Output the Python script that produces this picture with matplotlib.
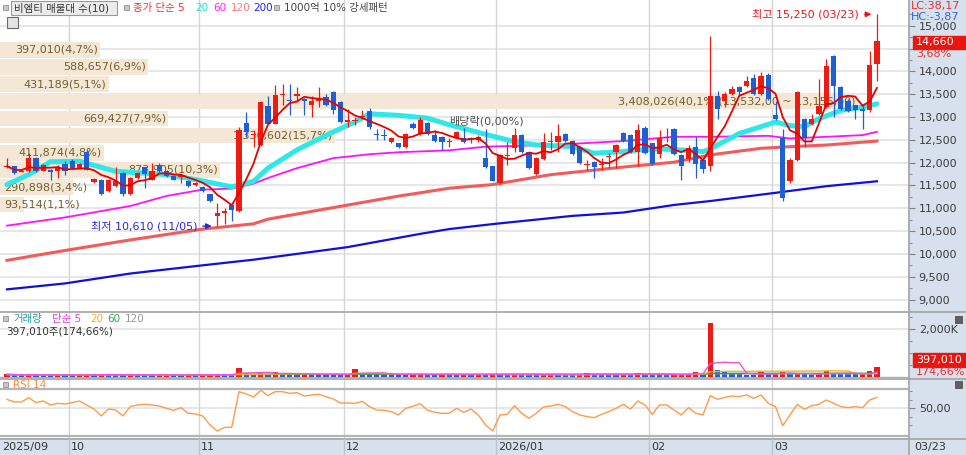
import numpy as np
import pandas as pd
import matplotlib
matplotlib.use('Agg')
import matplotlib.pyplot as plt
from matplotlib.patches import Rectangle
from matplotlib.transforms import blended_transform_factory

plt.rcParams['font.family'] = ['DejaVu Sans', 'Noto Sans CJK KR']

# ---- daily candles, 2025/09/18 .. 2026/03/23 (121 trading days) ----
opens = [
    11900, 11917, 11800, 11809, 12098, 11823, 11845, 11809, 11968,                  # 09
    12040, 11866, 12242, 11578, 11628, 11376, 11484, 11773, 11318, 11664,            # 10
    11895, 11628, 11953, 11809, 11700, 11679, 11592, 11500,
    11462, 11303, 10830, 10900, 11073, 10942, 12877, 12595, 12386, 13238,            # 11
    12856, 13484, 13361, 13470, 13380, 13253, 13354, 13433, 13542, 13325,
    12892, 12920, 12990, 13123, 12610, 12600, 12444, 12422, 12350, 12856,            # 12
    12617, 12870, 12603, 12567, 12450, 12545, 12545, 12530, 12495, 12112, 11917,
    11556, 12140, 12329, 12603, 12242, 11751, 12084, 12450, 12459, 12617,            # 01
    12473, 12350, 11953, 12011, 11950, 12130, 12242, 12639, 12603, 12242, 12762,
    12423, 12200, 12540, 12747, 12170, 12083, 12350, 12061, 11917, 13469,            # 02
    13361, 13505, 13650, 13686, 13845, 13505, 13924,
    13050, 12545, 11592, 12061, 12963, 12855, 13072, 13216, 14335, 13650,            # 03
    13361, 13252, 13180, 13144, 14155,
]
highs = [
    12110, 11930, 11830, 12206, 12130, 11960, 11860, 11953, 12040,
    12070, 11990, 12278, 11660, 11650, 11650, 11895, 11800, 11690, 11800,
    11910, 11990, 11990, 11830, 11720, 11760, 11610, 11580,
    11480, 11320, 11123, 11000, 11120, 12780, 13108, 12711, 13350, 13469,
    13700, 13722, 13722, 13650, 13420, 13470, 13650, 13506, 13570, 13340,
    13180, 13000, 13150, 13200, 12740, 12740, 12570, 12440, 12640, 12880,
    13000, 12890, 12711, 12580, 12530, 12690, 12750, 12570, 12600, 12740, 11930,
    12200, 12460, 12750, 12620, 12260, 12120, 12650, 12675, 12856, 12640,
    12490, 12370, 12061, 12030, 12098, 12206, 12400, 12675, 12620, 12856, 12800,
    12440, 12711, 12750, 12760, 12190, 12386, 12566, 12100, 14783, 13577,
    13540, 13686, 13670, 13902, 13938, 13989, 13974,
    13360, 12747, 12100, 13577, 12980, 13072, 13830, 14263, 14350, 13670,
    13400, 13270, 13288, 14443, 15250,
]
lows = [
    11880, 11750, 11790, 11800, 11800, 11810, 11630, 11664, 11736,
    11860, 11850, 11830, 11560, 11290, 11360, 11470, 11280, 11300, 11650,
    11448, 11610, 11790, 11680, 11610, 11556, 11470, 11480,
    11360, 11140, 10610, 10654, 10725, 10920, 12567, 12350, 12370, 12840,
    12840, 13253, 13036, 13325, 13050, 13000, 13217, 13250, 13072, 12870,
    12784, 12820, 12960, 12740, 12495, 12495, 12420, 12330, 12330, 12740,
    12600, 12600, 12460, 12278, 12350, 12530, 12420, 12420, 12460, 11880, 11590,
    11540, 11953, 12242, 12220, 11860, 11730, 12060, 12278, 12242, 12450,
    12170, 11970, 11845, 11665, 11845, 11881, 11881, 12450, 12220, 11917, 12190,
    11950, 12098, 12460, 12170, 11628, 12025, 11664, 11772, 11808, 12964,
    13216, 13480, 13450, 13650, 13480, 13480, 13380,
    12930, 11159, 11560, 12040, 12350, 12820, 13050, 13200, 13000, 13150,
    13100, 12963, 12747, 13120, 13794,
]
closes = [
    11920, 11773, 11815, 12098, 11809, 11939, 11787, 11881, 11823,
    11881, 11968, 11845, 11643, 11318, 11628, 11592, 11303, 11664, 11773,
    11751, 11809, 11809, 11700, 11628, 11736, 11484, 11560,
    11376, 11159, 10900, 10950, 10957, 12711, 12661, 12610, 13325, 12856,
    13484, 13506, 13350, 13506, 13361, 13361, 13411, 13267, 13144, 12892,
    12928, 12935, 13000, 12784, 12600, 12590, 12545, 12350, 12617, 12762,
    12928, 12620, 12480, 12458, 12460, 12675, 12458, 12515, 12567, 11895, 11607,
    12170, 12155, 12603, 12242, 11881, 12098, 12444, 12462, 12589, 12473,
    12184, 11989, 11960, 11895, 11960, 12140, 12386, 12473, 12242, 12711, 12206,
    11968, 12531, 12550, 12184, 11917, 12328, 11967, 11866, 13469, 13180,
    13505, 13613, 13556, 13794, 13505, 13902, 13397,
    12950, 11231, 12061, 13541, 12531, 12963, 13231, 14119, 13671, 13180,
    13122, 13144, 13122, 14140, 14660,
]
# volume, thousand shares
volumes = [
    85, 70, 65, 80, 75, 70, 65, 75, 70,
    65, 70, 80, 75, 85, 80, 75, 70, 80, 75, 70, 65, 70, 75, 70, 65, 75, 70,
    75, 80, 85, 80, 75, 370, 140, 115, 135, 105, 185, 115, 105, 95, 100, 95, 90, 85, 80, 75,
    85, 300, 145, 115, 105, 95, 85, 80, 75, 80, 85, 75, 70, 80, 75, 70, 75, 70, 80, 75, 85,
    80, 75, 85, 80, 75, 70, 75, 80, 75, 70, 65, 70, 140, 85, 80, 75, 70, 110, 85, 140, 95,
    85, 80, 75, 75, 80, 85, 210, 105, 2240, 255, 185, 130, 85, 70, 60, 185, 85,
    140, 185, 100, 115, 85, 70, 115, 230, 140, 115, 100, 85, 90, 227, 397,
]
rsi = [
    60.6, 57.5, 57.5, 62.5, 56.7, 58.6, 53.9, 55.9, 55.1,
    56.7, 58.6, 53.9, 49.2, 41.0, 49.2, 48.0, 41.0, 52.0, 53.9,
    54.7, 53.9, 52.7, 50.0, 47.6, 50.8, 44.1, 43.3,
    41.0, 30.4, 23.3, 27.6, 27.6, 69.6, 66.9, 63.3, 71.2, 64.9,
    69.6, 69.6, 67.6, 68.4, 64.5, 65.7, 66.5, 63.7, 61.0, 56.3,
    56.3, 55.9, 58.2, 52.0, 48.0, 47.6, 46.1, 42.2, 50.0, 52.4,
    55.5, 47.6, 45.3, 44.1, 44.1, 50.0, 45.3, 49.2, 42.2, 30.4, 23.3,
    42.2, 42.9, 53.1, 44.1, 38.2, 44.1, 51.6, 52.7, 54.7, 52.0,
    46.1, 42.2, 40.2, 39.0, 42.9, 46.1, 50.0, 54.7, 49.2, 58.6, 53.9,
    42.9, 53.9, 53.9, 48.0, 42.2, 50.8, 44.1, 42.2, 64.9, 60.6,
    62.9, 64.5, 63.7, 65.7, 61.8, 65.7, 55.9,
    52.0, 29.6, 42.2, 54.7, 48.8, 53.1, 54.7, 59.8, 55.9, 52.0,
    50.8, 52.0, 50.8, 59.8, 62.9,
]

# moving averages (day index, price)
ma20_idx = [0, 3, 6, 10, 15, 19, 22, 27, 31, 34, 36, 40, 45, 48, 50, 54, 58, 61, 66, 70,
            73, 78, 81, 85, 87, 90, 93, 96, 97, 101, 106, 108, 110, 112, 115, 118, 120]
ma20_val = [11520, 11740, 12020, 12030, 11810, 11770, 11740, 11600, 11470, 11590, 11880,
            12280, 12675, 12890, 13070, 13036, 12975, 12830, 12620, 12460, 12390, 12350,
            12206, 12242, 12278, 12300, 12278, 12242, 12300, 12639, 12890, 12810, 12790,
            12964, 13144, 13216, 13288]
ma60_idx = [0, 8, 17, 22, 27, 31, 34, 36, 40, 45, 50, 54, 61, 66, 75, 85, 92, 97, 105,
            108, 113, 118, 120]
ma60_val = [10620, 10800, 11050, 11270, 11410, 11430, 11540, 11664, 11880, 12098, 12184,
            12228, 12270, 12350, 12387, 12473, 12567, 12566, 12588, 12530, 12566, 12603, 12675]
ma120_idx = [0, 8, 17, 27, 34, 36, 45, 54, 57, 61, 67, 75, 85, 92, 97, 104, 108, 113, 120]
ma120_val = [9860, 10076, 10307, 10545, 10660, 10762, 11015, 11267, 11340, 11440, 11520,
             11737, 11903, 12010, 12170, 12314, 12350, 12386, 12473]
ma200_idx = [0, 8, 17, 27, 34, 47, 57, 61, 67, 78, 85, 92, 97, 106, 113, 120]
ma200_val = [9224, 9354, 9571, 9751, 9874, 10150, 10440, 10545, 10654, 10834,
             10907, 11073, 11159, 11339, 11484, 11592]

# price profile (매물대, 10 bands from top)
profile_vol = [397010, 588657, 431189, 3408026, 669427, 1330602, 411874, 873905, 290898, 93514]
profile_labels = ['397,010(4,7%)', '588,657(6,9%)', '431,189(5,1%)',
                  '3,408,026(40,1%)(13,532,00 ~ 13,156,00)', '669,427(7,9%)',
                  '1,330,602(15,7%)', '411,874(4,8%)', '873,905(10,3%)',
                  '290,898(3,4%)', '93,514(1,1%)']

month_labels = ['2025/09', '10', '11', '12', '2026/01', '02', '03']
month_starts = [0, 9, 27, 47, 68, 89, 106]

# ---- styles ----
W, H = 966, 455
RED = '#ec1c14'
BLUE = '#1f5fd4'
PANEL = '#d7e1ed'
BEIGE = '#f5e7d6'
GRID = '#e3e3e3'
SEP = '#a8a8a8'

opens, highs, lows, closes = (np.array(a, float) for a in (opens, highs, lows, closes))
volumes = np.array(volumes, float)
n = len(closes)
idx = np.arange(n)


def box(x0, y0, x1, y1):
    return [x0 / W, 1 - y1 / H, (x1 - x0) / W, (y1 - y0) / H]


def fx(px):
    return px / W


def fy(py):
    return 1 - py / H


fig = plt.figure(figsize=(W / 100, H / 100), dpi=100)
fig.patch.set_facecolor('white')
# backgrounds behind the axes
fig.patches.append(Rectangle((fx(909), fy(439)), fx(966) - fx(909), fy(0) - fy(439),
                             transform=fig.transFigure, color=PANEL, zorder=-2))
fig.patches.append(Rectangle((0, 0), 1, fy(439), transform=fig.transFigure,
                             color=PANEL, zorder=-2))

x_lo, x_hi = -7 / 7.25, (909 - 7) / 7.25

ax = fig.add_axes(box(0, 0, 909, 311))
axv = fig.add_axes(box(0, 312, 909, 378))
axr = fig.add_axes(box(0, 379, 909, 439))

for a in (ax, axv, axr):
    a.set_xlim(x_lo, x_hi)
    a.set_facecolor('none')
    for s in a.spines.values():
        s.set_visible(False)
    a.set_xticks([])
    a.yaxis.tick_right()
    a.tick_params(axis='y', which='major', length=4, width=0.8, color='#808080',
                  labelsize=8, labelcolor='#3a3a3a', pad=3)
    a.tick_params(axis='y', which='minor', length=2, width=0.8, color='#909090')
    for m in month_starts[1:]:
        a.axvline(m - 0.5, color='#d4d4d4', lw=1, zorder=0.5)

# ---- price panel ----
ax.set_ylim(15000 - 285 * 21.66, 15000 + 26 * 21.66)
ticks = np.arange(9000, 15001, 500)
ax.set_yticks(ticks)
ax.set_yticklabels(['' if t == 14500 else f'{t:,}' for t in ticks])
ax.set_yticks(np.arange(8750, 15500, 250), minor=True)
for t in ticks:
    ax.axhline(t, color=GRID, lw=1.2, zorder=0.4)

# profile bands
p_top, p_bot = closes.max(), closes.min()
step = (p_top - p_bot) / len(profile_vol)
centers = p_top - step * (np.arange(len(profile_vol)) + 0.5)
widths = np.array(profile_vol) / max(profile_vol) * 118.3
ax.barh(centers, widths, height=step * 0.9, left=x_lo, color=BEIGE, zorder=1)
for c, w, lab in zip(centers, widths, profile_labels):
    if w * 7.25 > 90:
        ax.text(x_lo + w - 0.3, c, lab, ha='right', va='center', fontsize=8,
                color='#735f2c', zorder=1.5)
    else:
        ax.text(x_lo + 0.55, c, lab, ha='left', va='center', fontsize=8,
                color='#735f2c', zorder=1.5)

# moving averages
ax.plot(ma200_idx, ma200_val, color='#1010e0', lw=1.6, zorder=2)
ax.plot(ma120_idx, ma120_val, color='#f45a5a', lw=2.2, zorder=2)
ax.plot(ma60_idx, ma60_val, color='#ff10ff', lw=1.3, zorder=2.5)
ax.plot(ma20_idx, ma20_val, color='#2ee8e8', lw=3.6, zorder=2.6, solid_capstyle='round')

# candles
up = closes >= opens
ccol = np.where(up, RED, BLUE)
ax.vlines(idx, lows, highs, colors=ccol, lw=0.9, zorder=4)
body_lo = np.minimum(opens, closes)
body_h = np.maximum(np.abs(closes - opens), 25)
ax.bar(idx, body_h, 0.7, bottom=body_lo, color=ccol, linewidth=0, zorder=5)

ma5 = pd.Series(closes).rolling(5, min_periods=1).mean()
ax.plot(idx, ma5, color='#e80000', lw=1.3, zorder=6)

# high / low notes
hi_i = int(np.argmax(highs))
lo_i = int(np.argmin(lows))
ax.annotate('최고 15,250 (03/23)', xy=(hi_i, highs[hi_i]), xytext=(-18, 0),
            textcoords='offset pixels', ha='right', va='center', fontsize=8, color='#e81818',
            arrowprops=dict(arrowstyle='-|>', color='#e81818', lw=1, mutation_scale=8,
                            shrinkA=2, shrinkB=4), zorder=7)
ax.annotate('최저 10,610 (11/05)', xy=(lo_i, lows[lo_i]), xytext=(-20, 0),
            textcoords='offset pixels', ha='right', va='center', fontsize=8, color='#2828d8',
            arrowprops=dict(arrowstyle='-|>', color='#2828d8', lw=1, mutation_scale=8,
                            shrinkA=2, shrinkB=4), zorder=7)
ax.text(61.0, 12900, '배당락(0,00%)', fontsize=8, color='#505050', ha='left', va='center', zorder=7)

# ---- volume panel ----
axv.set_ylim(-63, 2716)
axv.set_yticks([2000])
axv.set_yticklabels(['2,000K'])
axv.set_yticks([500, 1000, 1500, 2500], minor=True)
axv.axhline(2000, color=GRID, lw=1.2, zorder=0.4)
vcol = [RED] + [RED if volumes[i] >= volumes[i - 1] else BLUE for i in range(1, n)]
axv.bar(idx, volumes, 0.75, color=vcol, linewidth=0, zorder=3)
vs = pd.Series(volumes)
axv.plot(idx, vs.rolling(120, min_periods=1).mean(), color='#a0a0a0', lw=1, zorder=4)
axv.plot(idx, vs.rolling(60, min_periods=1).mean(), color='#2e9a44', lw=1, zorder=4)
axv.plot(idx, vs.rolling(20, min_periods=1).mean(), color='#f2b21a', lw=1, zorder=4)
axv.plot(idx, vs.rolling(5, min_periods=1).mean(), color='#f050e0', lw=1, zorder=4)
axv.axhline(0, color='#b0b0b0', lw=1, zorder=2)

# ---- RSI panel ----
axr.set_ylim(13.9, 84.5)
axr.set_yticks([50])
axr.set_yticklabels(['50,00'])
axr.set_yticks([60, 70, 40, 30], minor=True)
axr.axhline(50, color=GRID, lw=1.2, zorder=0.4)
axr.axhline(72.7, color='#b4b4b4', lw=1.6, zorder=1)
axr.axhline(17.8, color='#b4b4b4', lw=1.6, zorder=1)
axr.plot(idx, rsi, color='#ff9a4a', lw=1, zorder=3)

# ---- separators ----
for y in (311.5, 378.5, 439):
    fig.add_artist(plt.Line2D([0, 1], [fy(y), fy(y)], transform=fig.transFigure,
                              color=SEP, lw=1.3))
fig.add_artist(plt.Line2D([fx(909), fx(909)], [fy(0), fy(455)], transform=fig.transFigure,
                          color=SEP, lw=1.3))

# ---- date strip ----
tr = blended_transform_factory(axr.transData, fig.transFigure)
for lab, m in zip(month_labels, month_starts):
    xpos = m - 0.5 + 0.3 if m > 0 else -0.7
    fig.text(xpos, fy(447), lab, transform=tr, ha='left', va='center', fontsize=8, color='#333333')
    if m > 0:
        fig.add_artist(plt.Line2D([m - 0.5, m - 0.5], [fy(455), fy(439)], transform=tr,
                                  color='#b8c4d2', lw=1))
fig.text(fx(914), fy(447), '03/23', ha='left', va='center', fontsize=8, color='#333333')

# ---- right side value tags ----
fig.text(fx(911), fy(6), 'LC:38,17', ha='left', va='center', fontsize=8, color='#e83030')
fig.text(fx(911), fy(17), 'HC:-3,87', ha='left', va='center', fontsize=8, color='#3060e0')
fig.patches.append(Rectangle((fx(913), fy(49)), fx(966) - fx(913), fy(36) - fy(49),
                             transform=fig.transFigure, color='#e8160e', zorder=3))
fig.text(fx(916), fy(42.5), f'{int(closes[-1]):,}', ha='left', va='center', fontsize=8,
         color='white', zorder=4)
fig.text(fx(916), fy(54), '3,68%', ha='left', va='center', fontsize=8, color='#e83030')
fig.patches.append(Rectangle((fx(913), fy(367)), fx(966) - fx(913), fy(353) - fy(367),
                             transform=fig.transFigure, color='#e8160e', zorder=3))
fig.text(fx(916), fy(360), '397,010', ha='left', va='center', fontsize=8, color='white', zorder=4)
fig.text(fx(916), fy(372), '174,66%', ha='left', va='center', fontsize=8, color='#e83030')
for y in (316, 381):
    fig.patches.append(Rectangle((fx(955), fy(y + 7)), fx(7), fy(0) - fy(7),
                                 transform=fig.transFigure, facecolor='#606060',
                                 edgecolor='#404040', lw=0.5, zorder=3))

# ---- legends ----
def sq(x, y):
    fig.patches.append(Rectangle((fx(x), fy(y + 5)), fx(5), fy(0) - fy(5),
                                 transform=fig.transFigure, facecolor='#c8c8c8',
                                 edgecolor='#808080', lw=0.5, zorder=3))


sq(3, 5)
fig.patches.append(Rectangle((fx(11), fy(15)), fx(106), fy(1) - fy(15), transform=fig.transFigure,
                             facecolor='#ececec', edgecolor='#9a9a9a', lw=0.8, zorder=2))
fig.text(fx(14), fy(8), '비엠티 매물대 수(10)', ha='left', va='center', fontsize=7.5,
         color='#333333', zorder=3)
sq(124, 5)
for txt, x, c in [('종가 단순 5', 133, '#ff2a2a'), ('20', 195, '#20dede'), ('60', 213, '#ff20ff'),
                  ('120', 231, '#ff7a7a'), ('200', 253, '#2020ff')]:
    fig.text(fx(x), fy(8), txt, ha='left', va='center', fontsize=7.5, color=c)
sq(274, 5)
fig.text(fx(284), fy(8), '1000억 10% 강세패턴', ha='left', va='center', fontsize=7.5, color='#444444')
fig.patches.append(Rectangle((fx(7), fy(28)), fx(11), fy(17) - fy(28), transform=fig.transFigure,
                             facecolor='#e4e4e4', edgecolor='#6a6a6a', lw=0.8, zorder=3))

sq(3, 316)
for txt, x, c in [('거래량', 13, '#2a9a9a'), ('단순 5', 52, '#e040d8'), ('20', 90, '#f0b020'),
                  ('60', 107, '#30a050'), ('120', 125, '#999999')]:
    fig.text(fx(x), fy(319), txt, ha='left', va='center', fontsize=7.5, color=c)
fig.text(fx(6), fy(331), '397,010주(174,66%)', ha='left', va='center', fontsize=7.5, color='#333333')

sq(3, 382)
fig.text(fx(13), fy(385), 'RSI 14', ha='left', va='center', fontsize=7.5, color='#ff8c3c')

fig.savefig('out.png', dpi=100)
